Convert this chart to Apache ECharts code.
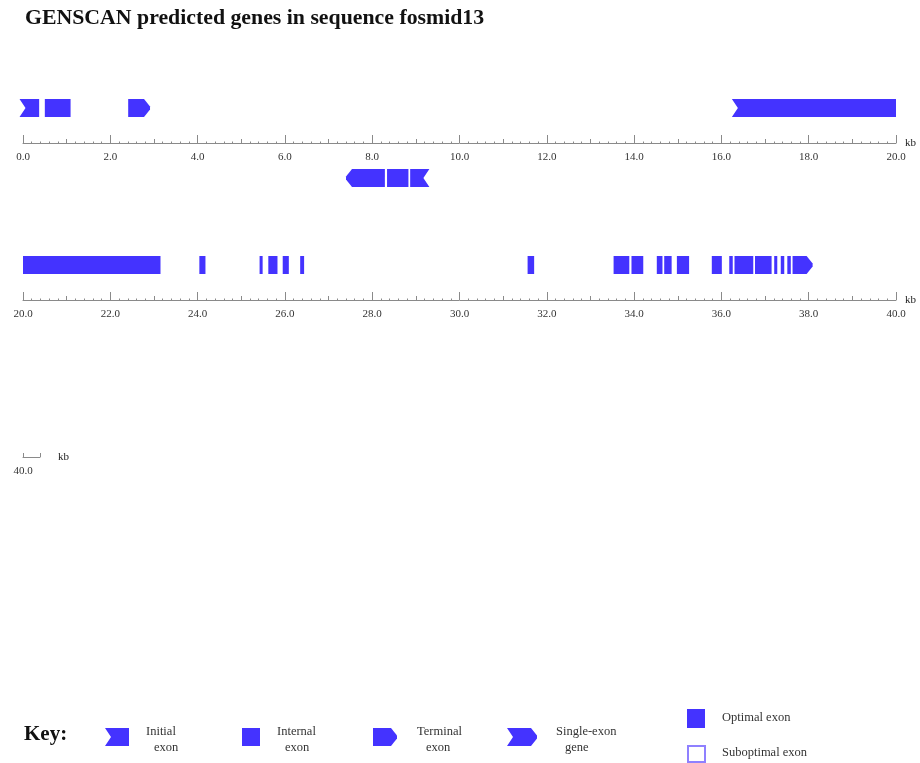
<!DOCTYPE html>
<html><head><meta charset="utf-8">
<script src="https://cdn.jsdelivr.net/npm/echarts@6/dist/echarts.min.js"></script>
<style>html,body{margin:0;padding:0;background:#fff}#c{width:920px;height:763px}</style>
</head><body><div id="c"></div>
<script>
// ---------- data ----------
const chartTitle = 'GENSCAN predicted genes in sequence fosmid13';
const rowMin = [0, 20, 40];
const rowMax = [20, 40, 40.39];
const unitName = 'kb';
// exons (kb)
const exonStart  = [-0.08, 0.50, 2.41, 7.40, 8.34, 8.87, 16.24, 24.04, 25.42, 25.62, 25.95, 26.35, 31.56, 33.53, 33.94, 34.52, 34.69, 34.98, 35.78, 36.18, 36.30, 36.77, 37.21, 37.36, 37.51, 37.63];
const exonEnd    = [ 0.37, 1.09, 2.91, 8.29, 8.83, 9.31, 23.15, 24.18, 25.49, 25.83, 26.09, 26.44, 31.71, 33.89, 34.21, 34.65, 34.86, 35.26, 36.01, 36.26, 36.73, 37.15, 37.28, 37.44, 37.59, 38.09];
const exonStrand = ['+','+','+','-','-','-','+','+','+','+','+','+','+','+','+','+','+','+','+','+','+','+','+','+','+','+'];
const exonType   = ['Init','Intr','Term','Term','Intr','Init','Init','Intr','Intr','Intr','Intr','Intr','Intr','Intr','Intr','Intr','Intr','Intr','Intr','Intr','Intr','Intr','Intr','Intr','Intr','Term'];
const keyTitle = 'Key:';
const keyLine1 = ['Initial', 'Internal', 'Terminal', 'Single-exon'];
const keyLine2 = ['exon', 'exon', 'exon', 'gene'];
const qualityLabels = ['Optimal exon', 'Suboptimal exon'];

// ---------- style / layout ----------
const EXON = '#4433ff';
const SUBOPT = '#8f80ff';
const AXIS = '#8a8a8a';
const SERIF = '"Liberation Serif","Times New Roman",serif';
const axisY = [143, 300, 457];
const rowLeft = 23;
const rowWidth = [873, 873, 17];
const typeCode = {Init: 0, Intr: 1, Term: 2, Single: 3};

function exonPolygon(x1, x2, ym, h, leftNotch, leftPoint, rightNotch, rightPoint) {
  const top = ym - h, bot = ym + h;
  const d = Math.min(6, (x2 - x1) / 2);
  const pts = [];
  pts.push(leftPoint ? [x1 + d, top] : [x1, top]);
  if (rightPoint) pts.push([x2 - d, top], [x2, ym - 1.5], [x2, ym + 1.5], [x2 - d, bot]);
  else if (rightNotch) pts.push([x2, top], [x2 - d, ym], [x2, bot]);
  else pts.push([x2, top], [x2, bot]);
  if (leftPoint) pts.push([x1 + d, bot], [x1, ym + 1.5], [x1, ym - 1.5]);
  else if (leftNotch) pts.push([x1, bot], [x1 + d, ym]);
  else pts.push([x1, bot]);
  return pts;
}

const exonData = exonStart.map((s, i) => [s, exonEnd[i], exonStrand[i] === '+' ? 1 : -1, typeCode[exonType[i]]]);

const grids = [], xAxes = [], yAxes = [], series = [];
const nRows = rowMin.length;
for (let r = 0; r < nRows; r++) {
  grids.push({left: rowLeft, top: axisY[r] - 70, width: rowWidth[r], height: 70, containLabel: false});
  yAxes.push({type: 'value', gridIndex: r, min: 0, max: 2, show: false});
  const mainAxis = {
    type: 'value', gridIndex: r, min: rowMin[r], max: rowMax[r], position: 'bottom',
    axisLine: {show: true, onZero: false, lineStyle: {color: AXIS, width: 1}},
    axisTick: {show: true, inside: true, length: 8, lineStyle: {color: AXIS, width: 1}},
    axisLabel: {show: true, margin: 9, fontFamily: SERIF, fontSize: 11, color: '#333',
                formatter: v => v.toFixed(1)},
    splitLine: {show: false},
    name: unitName, nameLocation: 'end', nameGap: r === 2 ? 18 : 9,
    nameTextStyle: {fontFamily: SERIF, fontSize: 11, color: '#222'}
  };
  if (r < 2) {
    mainAxis.interval = 2;
  } else {
    mainAxis.axisTick.customValues = [rowMin[r], rowMax[r]];
    mainAxis.axisTick.length = 4;
    mainAxis.axisLabel.customValues = [rowMin[r]];
  }
  const mainIndex = xAxes.length;
  xAxes.push(mainAxis);
  if (r < 2) {
    xAxes.push({
      type: 'value', gridIndex: r, min: rowMin[r], max: rowMax[r], interval: 1, position: 'bottom',
      axisLine: {show: false, onZero: false},
      axisTick: {show: true, inside: true, length: 4, lineStyle: {color: AXIS, width: 1}},
      minorTick: {show: true, splitNumber: 5, length: 1.5, lineStyle: {color: AXIS, width: 1}},
      axisLabel: {show: false}, splitLine: {show: false}
    });
  }
  // clip only where the sequence continues on a neighbouring row
  const lo = r === 0 ? -Infinity : rowMin[r];
  const hi = r === nRows - 1 ? Infinity : rowMax[r];
  series.push({
    type: 'custom', xAxisIndex: mainIndex, yAxisIndex: r, clip: false, silent: true,
    data: exonData,
    renderItem: function (params, api) {
      const s = api.value(0), e = api.value(1), strand = api.value(2), t = api.value(3);
      const a = Math.max(s, lo), b = Math.min(e, hi);
      if (!(a < b)) return null;
      const yc = strand > 0 ? 1 : -1;
      const p1 = api.coord([a, yc]), p2 = api.coord([b, yc]);
      const hasTail = (t === 0 || t === 3), hasHead = (t === 2 || t === 3);
      const startIn = s >= lo, endIn = e <= hi;
      let ln = false, lp = false, rn = false, rp = false;
      if (strand > 0) { ln = hasTail && startIn; rp = hasHead && endIn; }
      else { rn = hasTail && endIn; lp = hasHead && startIn; }
      return {type: 'polygon', shape: {points: exonPolygon(p1[0], p2[0], p1[1], 9, ln, lp, rn, rp)},
              style: {fill: EXON}};
    }
  });
}

// ---------- key ----------
const graphics = [];
const keyIconX = [[105, 129], [242, 260], [373, 397], [507, 537]];
const keyIconShape = [[true, false], [false, false], [false, true], [true, true]];
const keyTextX = [[146, 154], [277, 285], [417, 426], [556, 565]];
graphics.push({type: 'text', x: 24, y: 735, style: {text: keyTitle, font: 'bold 21px ' + SERIF, fill: '#111', verticalAlign: 'middle'}});
for (let k = 0; k < 4; k++) {
  graphics.push({type: 'polygon', shape: {points: exonPolygon(keyIconX[k][0], keyIconX[k][1], 737, 9,
      keyIconShape[k][0], false, false, keyIconShape[k][1])}, style: {fill: EXON}});
  graphics.push({type: 'text', x: keyTextX[k][0], y: 732, style: {text: keyLine1[k], font: '12.5px ' + SERIF, fill: '#333', verticalAlign: 'middle'}});
  graphics.push({type: 'text', x: keyTextX[k][1], y: 748, style: {text: keyLine2[k], font: '12.5px ' + SERIF, fill: '#333', verticalAlign: 'middle'}});
}
graphics.push({type: 'rect', shape: {x: 687, y: 709, width: 18, height: 19}, style: {fill: EXON}});
graphics.push({type: 'rect', shape: {x: 688, y: 746, width: 17, height: 16}, style: {fill: '#fff', stroke: SUBOPT, lineWidth: 2}});
graphics.push({type: 'text', x: 722, y: 718, style: {text: qualityLabels[0], font: '12.5px ' + SERIF, fill: '#333', verticalAlign: 'middle'}});
graphics.push({type: 'text', x: 722, y: 753, style: {text: qualityLabels[1], font: '12.5px ' + SERIF, fill: '#333', verticalAlign: 'middle'}});

const chart = echarts.init(document.getElementById('c'), null, {renderer: 'canvas'});
chart.setOption({
  animation: false,
  backgroundColor: '#fff',
  title: {text: chartTitle, left: 25, top: 7, padding: 0,
          textStyle: {fontFamily: SERIF, fontWeight: 'bold', fontSize: 21.8, color: '#111'}},
  grid: grids, xAxis: xAxes, yAxis: yAxes, series: series, graphic: graphics
});
</script></body></html>
